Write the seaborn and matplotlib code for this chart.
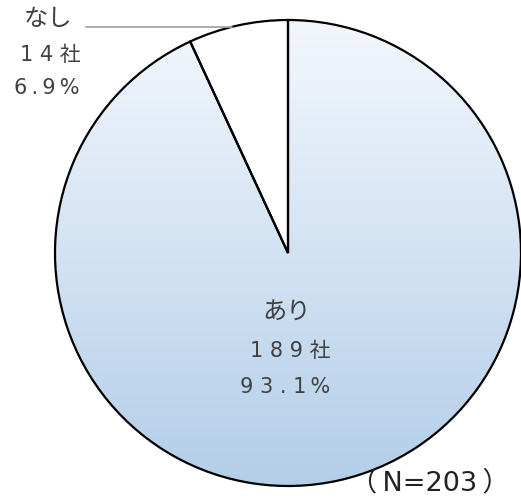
import numpy as np
import matplotlib
matplotlib.use("Agg")
import matplotlib.pyplot as plt
import seaborn as sns

# Survey answers: count of companies per answer
labels = ["なし", "あり"]
counts = [14, 189]
count_texts = ["1 4 社", "1 8 9 社"]
pct_texts = ["6\u2009.\u20099\u2009%", "9 3 . 1\u2009%"]
total_text = "（\u2009N=203\u2009）"

sns.set_theme(style="white")
plt.rcParams["font.family"] = ["Noto Sans CJK JP", "DejaVu Sans"]
latin_first = ["DejaVu Sans", "Noto Sans CJK JP"]

W, H = 521, 500
fig = plt.figure(figsize=(W / 100, H / 100), dpi=100)
ax = fig.add_axes([0, 0, 1, 1])

cx, cy, r = 288, H - 253, 233
wedges, _ = ax.pie(
    counts,
    startangle=90,
    counterclock=True,
    center=(cx, cy),
    radius=r,
    colors=["white", "none"],
    wedgeprops=dict(edgecolor="black", linewidth=1.6),
)

# vertical light-to-blue gradient inside the larger slice
cmap = sns.blend_palette(["#b3cee9", "#f3f7fd"], as_cmap=True)
grad = np.linspace(0, 1, 256).reshape(-1, 1)
img = ax.imshow(grad, cmap=cmap, origin="lower", aspect="auto",
                extent=(cx - r, cx + r, cy - r, cy + r), zorder=0.5)
img.set_clip_path(wedges[1])
wedges[1].set_zorder(1)

ax.set_xlim(0, W)
ax.set_ylim(0, H)
ax.set_aspect("equal")
ax.axis("off")

txt = "#404040"
kw = dict(ha="center", va="center", color=txt)
# small slice label with leader line
ax.plot([86, 232], [H - 27, H - 27], color="#a6a6a6", lw=1.3, zorder=2)
ax.text(48, H - 19, labels[0], fontsize=17.5, **kw)
ax.text(50, H - 55, count_texts[0], fontsize=15, family=latin_first, **kw)
ax.text(47, H - 88, pct_texts[0], fontsize=15, family=latin_first, **kw)

# large slice label
ax.text(287, H - 313, labels[1], fontsize=17.5, **kw)
ax.text(290, H - 351, count_texts[1], fontsize=15, family=latin_first, **kw)
ax.text(285, H - 387, pct_texts[1], fontsize=15, family=latin_first, **kw)

ax.text(430, H - 483, total_text, ha="center", va="center", fontsize=19.5,
        family=latin_first, color="#222222")

fig.savefig("out.png", dpi=100)
